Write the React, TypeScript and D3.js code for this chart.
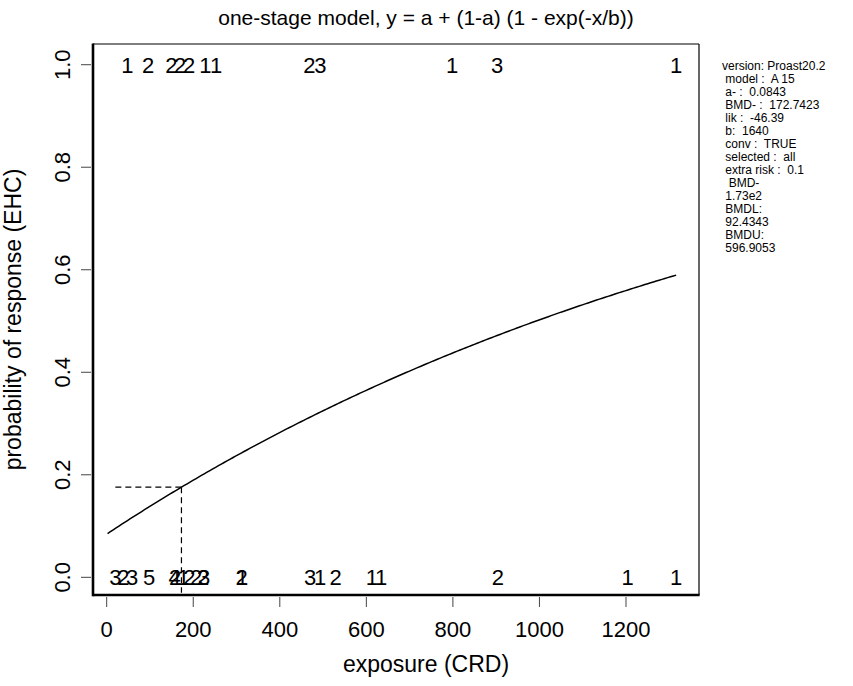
import React from "react";
import * as d3 from "d3";

const W = 853;
const H = 686;

const titleText = "one-stage model, y = a + (1-a) (1 - exp(-x/b))";
const xLabel = "exposure (CRD)";
const yLabel = "probability of response (EHC)";

const xTicks = [0, 200, 400, 600, 800, 1000, 1200];
const yTicks = [0, 0.2, 0.4, 0.6, 0.8, 1.0];

// fitted model parameters (from the legend)
const paramA = 0.0843;
const paramB = 1640;
const bmd = 172.7423;
const doseMin = 20;
const doseMax = 1316;

// counts shown at response = 1 (top row)
const topDoses = [47.6, 96, 149.7, 169.4, 190.2, 228.3, 252.6, 468.6, 494, 798, 902, 1316];
const topCounts = ["1", "2", "2", "2", "2", "1", "1", "2", "3", "1", "3", "1"];

// counts shown at response = 0 (bottom row)
const bottomDoses = [20, 38.8, 58.5, 98, 157, 158, 177, 191, 206.4, 223, 225, 312, 313, 470, 493, 529, 613, 634, 904, 1204, 1316];
const bottomCounts = ["3", "2", "3", "5", "4", "2", "1", "2", "2", "2", "3", "2", "1", "3", "1", "2", "1", "1", "2", "1", "1"];

const legendLines = [
  "version: Proast20.2",
  " model :  A 15",
  " a- :  0.0843",
  " BMD- :  172.7423",
  " lik :  -46.39",
  " b:  1640",
  " conv :  TRUE",
  " selected :  all",
  " extra risk :  0.1",
  "  BMD-",
  " 1.73e2",
  " BMDL:",
  " 92.4343",
  " BMDU:",
  " 596.9053",
];

const FONT = "'Liberation Sans', Arial, Helvetica, sans-serif";

const model = (d: number) => paramA + (1 - paramA) * (1 - Math.exp(-d / paramB));

export default function App() {
  const box = { left: 93, right: 699, top: 44, bottom: 595 };
  const x = d3.scaleLinear().domain([-31.66, 1368.7]).range([box.left, box.right]);
  const y = d3.scaleLinear().domain([-0.0345, 1.0404]).range([box.bottom, box.top]);

  const curvePts = d3.range(2, doseMax + 0.001, (doseMax - 2) / 200).map((d) => [d, model(d)] as [number, number]);
  const line = d3
    .line<[number, number]>()
    .x((p) => x(p[0]))
    .y((p) => y(p[1]));

  const bmdResp = model(bmd);
  const countSize = 22;
  const tickSize = 22;

  return (
    <svg width={W} height={H} style={{ position: "absolute", left: 0, top: 0, background: "#fff" }} fontFamily={FONT}>
      <rect x={0} y={0} width={W} height={H} fill="#fff" />
      {/* title */}
      <text x={426} y={25} textAnchor="middle" fontSize={21}>
        {titleText}
      </text>

      {/* box */}
      <line x1={box.left} x2={box.right} y1={box.top} y2={box.top} stroke="#000" strokeWidth={1.2} />
      <line x1={box.right} x2={box.right} y1={box.top} y2={box.bottom} stroke="#000" strokeWidth={1.2} />
      <line x1={box.left} x2={box.left} y1={box.top - 0.6} y2={box.bottom + 1.2} stroke="#000" strokeWidth={2.6} />
      <line x1={box.left} x2={box.right + 0.6} y1={box.bottom} y2={box.bottom} stroke="#000" strokeWidth={2.4} />

      {/* x axis ticks */}
      {xTicks.map((t) => (
        <g key={"xt" + t}>
          <line x1={x(t)} x2={x(t)} y1={box.bottom + 2} y2={box.bottom + 12} stroke="#444" strokeWidth={1} />
          <text x={x(t)} y={box.bottom + 42} textAnchor="middle" fontSize={tickSize}>
            {String(t)}
          </text>
        </g>
      ))}

      {/* y axis ticks */}
      {yTicks.map((t) => (
        <g key={"yt" + t}>
          <line x1={box.left - 12} x2={box.left - 2} y1={y(t)} y2={y(t)} stroke="#444" strokeWidth={1} />
          <text
            transform={`translate(${box.left - 23},${y(t)}) rotate(-90)`}
            textAnchor="middle"
            fontSize={tickSize}
          >
            {t.toFixed(1)}
          </text>
        </g>
      ))}

      {/* axis titles */}
      <text x={426} y={672} textAnchor="middle" fontSize={23}>
        {xLabel}
      </text>
      <text transform={`translate(21,${(box.top + box.bottom) / 2}) rotate(-90)`} textAnchor="middle" fontSize={23}>
        {yLabel}
      </text>

      {/* model curve */}
      <path d={line(curvePts) || ""} fill="none" stroke="#000" strokeWidth={1.5} />

      {/* BMD lines */}
      <line x1={x(doseMin)} x2={x(bmd)} y1={y(bmdResp)} y2={y(bmdResp)} stroke="#000" strokeWidth={1.2} strokeDasharray="6,4" />
      <line x1={x(bmd)} x2={x(bmd)} y1={y(bmdResp)} y2={y(-0.03)} stroke="#000" strokeWidth={1.2} strokeDasharray="6,4" />

      {/* counts */}
      {topDoses.map((d, i) => (
        <text key={"tc" + i} x={x(d)} y={y(1) + 8} textAnchor="middle" fontSize={countSize}>
          {topCounts[i]}
        </text>
      ))}
      {bottomDoses.map((d, i) => (
        <text key={"bc" + i} x={x(d)} y={y(0) + 8} textAnchor="middle" fontSize={countSize}>
          {bottomCounts[i]}
        </text>
      ))}

      {/* legend */}
      {legendLines.map((s, i) => (
        <text key={"lg" + i} x={722} y={70 + i * 13} fontSize={12} style={{ whiteSpace: "pre" }}>
          {s}
        </text>
      ))}
    </svg>
  );
}
